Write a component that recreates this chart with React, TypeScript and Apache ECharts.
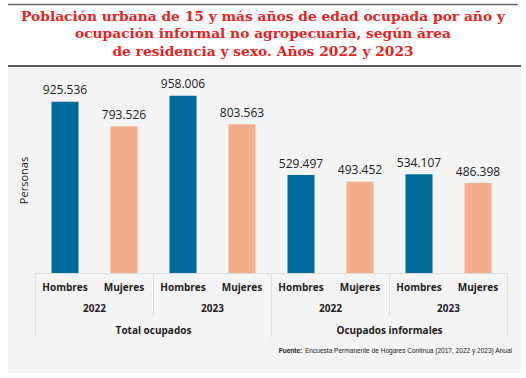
import React, { useEffect, useRef } from "react";
import * as echarts from "echarts";

const sexLabels = ["Hombres", "Mujeres", "Hombres", "Mujeres", "Hombres", "Mujeres", "Hombres", "Mujeres"];
const yearLabels = ["2022", "2023", "2022", "2023"];
const groupLabels = ["Total ocupados", "Ocupados informales"];
const values = [925536, 793526, 958006, 803563, 529497, 493452, 534107, 486398];
const sexColors = ["#006b9b", "#f3ad88"];
const titleLines = [
  "Población urbana de 15 y más años de edad ocupada por año y",
  "ocupación informal no agropecuaria, según área",
  "de residencia y sexo. Años 2022 y 2023",
];
const sourceBold = "Fuente:";
const sourceText = " Encuesta Permanente de Hogares Continua (2017, 2022 y 2023) Anual";

const fmt = (v: number) => String(v).replace(/\B(?=(\d{3})+(?!\d))/g, ".");

export default function App() {
  const ref = useRef<HTMLDivElement>(null);
  useEffect(() => {
    const chart = echarts.init(ref.current!, null, { renderer: "svg" });
    const sans = "'Open Sans', 'Noto Sans', sans-serif";
    const tickStyle = { color: "#dedede", width: 1 };
    chart.setOption({
      animation: false,
      backgroundColor: "#ffffff",
      title: {
        text: titleLines.join("\n"),
        left: "center",
        top: 7,
        padding: [0, 5],
        textStyle: {
          fontFamily: "'DejaVu Serif', serif",
          fontWeight: "bold",
          fontSize: 13.8,
          color: "#e8231f",
          lineHeight: 17.5,
        },
      },
      graphic: [
        { type: "rect", shape: { x: 8, y: 66, width: 513, height: 307 }, style: { fill: "#f4f4f4" }, z: -10 },
        { type: "line", shape: { x1: 8, y1: 4.5, x2: 518, y2: 4.5 }, style: { stroke: "#666", lineWidth: 1.5 } },
        { type: "line", shape: { x1: 8, y1: 66, x2: 521, y2: 66 }, style: { stroke: "#222", lineWidth: 1.5 } },
        {
          type: "text",
          x: 512,
          y: 350,
          scaleX: 0.82,
          style: {
            text: "{b|" + sourceBold + "}" + sourceText,
            fontFamily: "'Liberation Sans', sans-serif",
            fontSize: 8,
            fill: "#222",
            align: "right",
            verticalAlign: "middle",
            rich: { b: { fontWeight: "bold", fontSize: 8, fontFamily: "'Liberation Sans', sans-serif" } },
          },
        },
      ],
      grid: { left: 35.5, right: 18.5, top: 88, height: 185, containLabel: false },
      xAxis: [
        {
          type: "category",
          data: sexLabels,
          position: "bottom",
          axisLine: { show: true, lineStyle: { color: "#dedede" } },
          axisTick: { show: false },
          axisLabel: { interval: 0, margin: 9, fontFamily: sans, fontWeight: "bold", fontSize: 10, color: "#222" },
        },
        {
          type: "category",
          data: yearLabels,
          position: "bottom",
          gridIndex: 0,
          axisLine: { show: false },
          axisTick: { show: true, interval: 0, length: 42, lineStyle: tickStyle },
          axisLabel: { interval: 0, margin: 30, fontFamily: sans, fontWeight: "bold", fontSize: 10, color: "#222" },
        },
        {
          type: "category",
          data: groupLabels,
          position: "bottom",
          gridIndex: 0,
          axisLine: { show: false },
          axisTick: { show: true, interval: 0, length: 64, lineStyle: tickStyle },
          axisLabel: { interval: 0, margin: 52, fontFamily: sans, fontWeight: "bold", fontSize: 10, color: "#222" },
        },
      ],
      yAxis: {
        type: "value",
        min: 0,
        max: 1000000,
        name: "Personas",
        nameLocation: "middle",
        nameGap: 7,
        nameTextStyle: { fontFamily: sans, fontSize: 11, color: "#222" },
        axisLine: { show: false },
        axisTick: { show: false },
        axisLabel: { show: false },
        splitLine: { show: false },
      },
      series: [
        {
          type: "bar",
          xAxisIndex: 0,
          barWidth: 27,
          data: values.map((v, i) => ({ value: v, itemStyle: { color: sexColors[i % 2] } })),
          label: {
            show: true,
            position: "top",
            distance: 6,
            fontFamily: sans,
            fontSize: 12,
            color: "#222",
            formatter: (p: any) => fmt(p.value),
          },
        },
      ],
    });
    return () => chart.dispose();
  }, []);
  return <div ref={ref} style={{ position: "fixed", left: 0, top: 0, width: 526, height: 378 }} />;
}
